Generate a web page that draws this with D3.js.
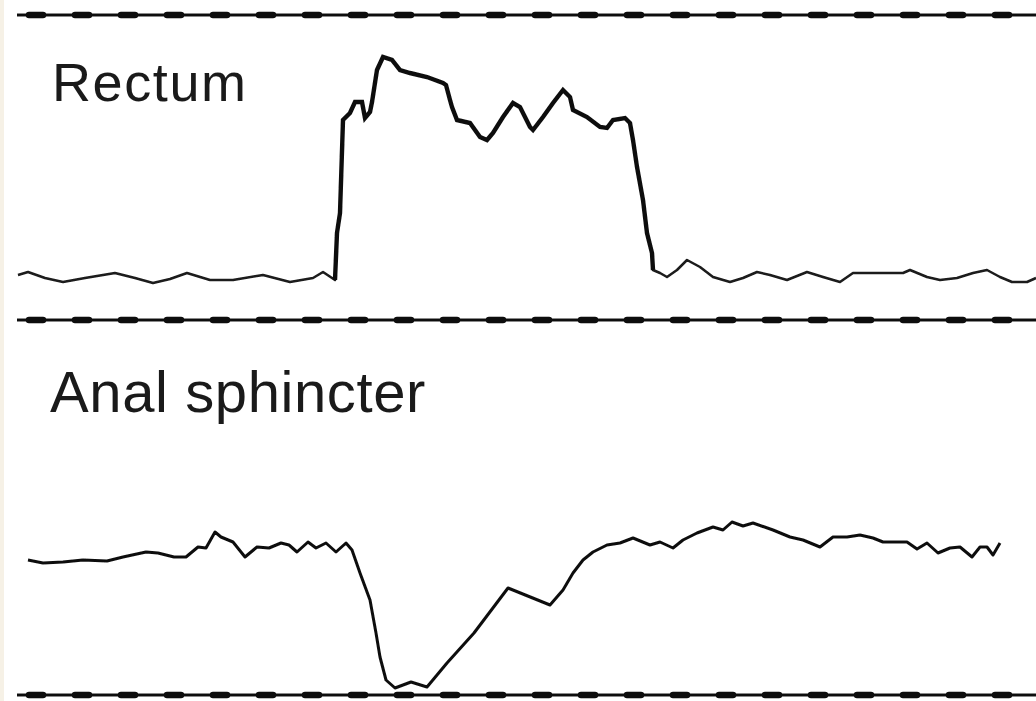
<!DOCTYPE html>
<html>
<head>
<meta charset="utf-8">
<script src="https://cdn.jsdelivr.net/npm/d3@7"></script>
<style>
html,body{margin:0;padding:0;background:#fff;}
svg{display:block;}
</style>
</head>
<body>
<svg id="chart" width="1036" height="701"></svg>
<script>
// Panel labels
const panelLabels = ["Rectum", "Anal sphincter"];

// Rectum pressure trace (time in s, pressure in mmHg, relative to baseline)
const rectumTime = [0.05,0.55,1.4,2.3,3.4,4.9,5.9,6.8,7.65,8.5,9.65,10.8,12.3,13.65,14.8,15.3,15.9,16.0,16.15,16.3,16.65,16.9,17.25,17.4,17.65,17.75,18.0,18.3,18.75,19.15,19.65,20.5,21.3,21.45,21.65,21.75,22.0,22.65,23.15,23.5,23.8,24.3,24.8,25.15,25.65,25.8,26.3,26.8,27.3,27.65,27.8,28.5,29.15,29.5,29.8,30.4,30.65,30.8,31.0,31.3,31.5,31.75,31.8,32.15,32.5,33.0,33.5,34.15,34.8,35.65,36.3,37.0,37.65,38.5,39.5,40.3,41.15,41.8,42.3,44.3,44.65,45.5,46.15,47.0,47.8,48.5,49.15,49.75,50.5,50.95];
const rectumPressure = [1,1.6,0.4,-0.4,0.4,1.4,0.4,-0.6,0.2,1.4,0,0,1,-0.4,0.4,1.6,0,9.4,13.4,32,33.4,35.6,35.6,32.4,33.6,35.6,42,44.6,44,42,41.4,40.6,39.4,39,36,34.6,32,31.4,28.6,28,29.4,32.6,35.4,34.6,30.6,30,32.6,35.4,38,36.6,34,32.6,30.6,30.4,32,32.4,31.4,28,22.6,16,9.4,5.4,2,1.4,0.6,2,4,2.6,0.6,-0.4,0.4,1.6,1,0,1.6,0.6,-0.4,1.4,1.4,1.4,2,0.6,0,0.4,1.4,2,0.6,-0.4,-0.4,0.4];

// Anal sphincter pressure trace
const analTime = [0.55,1.3,2.3,3.3,4.5,5.3,6.45,7.05,7.85,8.45,9.05,9.45,9.9,10.2,10.8,11.4,12.0,12.6,13.2,13.6,14.0,14.55,14.95,15.45,15.95,16.45,16.75,17.15,17.65,17.95,18.15,18.45,18.9,19.7,20.5,21.5,22.85,24.55,26.65,27.3,27.8,28.3,28.8,29.5,30.15,30.8,31.65,32.15,32.8,33.3,34.0,34.8,35.3,35.75,36.3,36.8,37.8,38.65,39.3,40.15,40.8,41.5,42.15,42.8,43.3,44.5,45.0,45.5,46.05,46.65,47.15,47.75,48.15,48.5,48.8,49.15];
const analPressure = [27,26.4,26.6,27,26.8,27.6,28.6,28.4,27.6,27.6,29.6,29.4,32.6,31.6,30.6,27.6,29.6,29.4,30.4,30,28.6,30.6,29.4,30.4,28.6,30.4,29,24.4,19,12.4,7.6,3,1.4,2.6,1.6,6.4,12.4,21.4,18,21,24.4,27,28.6,30,30.4,31.4,30,30.6,29.4,31,32.4,33.6,33,34.6,33.8,34.4,33,31.6,31,29.6,31.6,31.6,32,31.4,30.6,30.6,29.2,30.4,28.4,29.4,29.6,27.6,29.6,29.6,28,30.4];

const svg = d3.select("#chart");

const defs = svg.append("defs");
defs.append("filter").attr("id", "soft")
  .append("feGaussianBlur").attr("stdDeviation", 0.55);

const x = d3.scaleLinear().domain([0, 51]).range([17, 1037]);
const yR = d3.scaleLinear().domain([-8, 53]).range([320, 15]);
const yA = d3.scaleLinear().domain([0, 75]).range([695, 320]);

// faint paper edge at left
svg.append("rect").attr("x", 0).attr("y", 0).attr("width", 4).attr("height", 701)
  .attr("fill", "#f6f1e6");

const g = svg.append("g").attr("filter", "url(#soft)");

// separator lines (chart-recorder style dashed rules)
const sepYs = [yR(53), yR(-8), yA(0)];
sepYs.forEach(yy => {
  g.append("line").attr("x1", x(0)).attr("x2", 1036).attr("y1", yy).attr("y2", yy)
    .attr("stroke", "#111").attr("stroke-width", 3);
  g.append("line").attr("x1", x(0) + 12).attr("x2", 1036).attr("y1", yy).attr("y2", yy)
    .attr("stroke", "#111").attr("stroke-width", 6.5)
    .attr("stroke-linecap", "round")
    .attr("stroke-dasharray", "14 32");
});

const rectData = rectumTime.map((t, i) => [t, rectumPressure[i]]);
const analData = analTime.map((t, i) => [t, analPressure[i]]);

const lineR = d3.line().x(d => x(d[0])).y(d => yR(d[1]));
const lineA = d3.line().x(d => x(d[0])).y(d => yA(d[1]));

g.append("path").datum(rectData).attr("d", lineR)
  .attr("fill", "none").attr("stroke", "#1a1a1a").attr("stroke-width", 2.5)
  .attr("stroke-linejoin", "round");
g.append("path").datum(rectData.filter(d => d[0] >= 15.9 && d[0] <= 31.8)).attr("d", lineR)
  .attr("fill", "none").attr("stroke", "#111").attr("stroke-width", 4.4)
  .attr("stroke-linejoin", "miter");

g.append("path").datum(analData).attr("d", lineA)
  .attr("fill", "none").attr("stroke", "#111").attr("stroke-width", 3)
  .attr("stroke-linejoin", "round");

// labels
svg.append("text").attr("x", 52).attr("y", 101).text(panelLabels[0])
  .attr("font-family", "'Liberation Sans', Arial, sans-serif")
  .attr("font-size", 54).attr("letter-spacing", 1.6).attr("fill", "#1a1a1a");
svg.append("text").attr("x", 50).attr("y", 412).text(panelLabels[1])
  .attr("font-family", "'Liberation Sans', Arial, sans-serif")
  .attr("font-size", 58).attr("letter-spacing", 0.6).attr("fill", "#1a1a1a");
</script>
</body>
</html>
